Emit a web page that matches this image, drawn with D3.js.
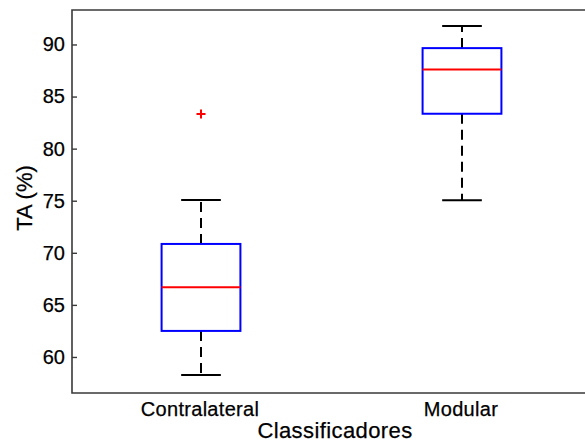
<!DOCTYPE html>
<html>
<head>
<meta charset="utf-8">
<script src="https://cdn.jsdelivr.net/npm/d3@7"></script>
<style>
  body { margin: 0; background: #fff; }
  svg { display: block; }
  text { font-family: "Liberation Sans", Arial, sans-serif; fill: #000; stroke: #000; stroke-width: 0.25px; }
</style>
</head>
<body>
<svg id="chart" width="585" height="443"></svg>
<script>
// data
const categories   = ["Contralateral", "Modular"]
const lowWhisker   = [58.27, 75.04]
const q1           = [62.50, 83.35]
const medians      = [66.69, 87.60]
const q3           = [70.85, 89.65]
const highWhisker  = [75.07, 91.77]
const outliers     = [[83.32], []]
const yTicks       = [60, 65, 70, 75, 80, 85, 90]

const svg = d3.select("#chart")

const plotLeft = 72, plotTop = 10, plotBottom = 393
const y = d3.scaleLinear().domain([56.54, 93.31]).range([plotBottom, plotTop])
const x = d3.scaleLinear().domain([0.5, 2.5]).range([70.5, 592.5])

const boxHalf = 0.151, capHalf = 0.076

// frame (top + bottom + left), right side runs off the picture
svg.append("path")
  .attr("d", `M585,${plotTop}H${plotLeft}V${plotBottom}H585`)
  .attr("fill", "none")
  .attr("stroke", "#3a3a3a")
  .attr("stroke-width", 1.6)

// y axis, inward ticks
const yAxis = d3.axisLeft(y)
  .tickValues(yTicks)
  .tickSizeInner(-5)
  .tickSizeOuter(0)
  .tickPadding(7)

const gy = svg.append("g")
  .attr("transform", `translate(${plotLeft},0)`)
  .call(yAxis)
gy.select(".domain").remove()
gy.selectAll(".tick line").attr("stroke", "#3a3a3a").attr("stroke-width", 1.4)
gy.selectAll(".tick text")
  .style("font-family", '"Liberation Sans", Arial, sans-serif')
  .style("font-size", "20px")
  .attr("fill", "#000")

// category labels
svg.selectAll(".cat")
  .data(categories)
  .join("text")
  .attr("class", "cat")
  .attr("x", (d, i) => x(i + 1) - 1)
  .attr("y", 416)
  .attr("text-anchor", "middle")
  .style("font-size", "20px")
  .style("letter-spacing", "0.3px")
  .text(d => d)

// boxes
categories.forEach((c, i) => {
  const cx = x(i + 1)
  const g = svg.append("g")

  // whiskers, dashed, drawn from box outward
  g.append("line")
    .attr("x1", cx).attr("x2", cx)
    .attr("y1", y(q3[i])).attr("y2", y(highWhisker[i]))
    .attr("stroke", "#000").attr("stroke-width", 2)
    .attr("stroke-dasharray", "10,6")
  g.append("line")
    .attr("x1", cx).attr("x2", cx)
    .attr("y1", y(q1[i])).attr("y2", y(lowWhisker[i]))
    .attr("stroke", "#000").attr("stroke-width", 2)
    .attr("stroke-dasharray", "10,6")

  // caps
  ;[lowWhisker[i], highWhisker[i]].forEach(v => {
    g.append("line")
      .attr("x1", x(i + 1 - capHalf)).attr("x2", x(i + 1 + capHalf))
      .attr("y1", y(v)).attr("y2", y(v))
      .attr("stroke", "#000").attr("stroke-width", 2)
  })

  // box
  g.append("rect")
    .attr("x", x(i + 1 - boxHalf))
    .attr("y", y(q3[i]))
    .attr("width", x(i + 1 + boxHalf) - x(i + 1 - boxHalf))
    .attr("height", y(q1[i]) - y(q3[i]))
    .attr("fill", "none")
    .attr("stroke", "#0000ff")
    .attr("stroke-width", 2)

  // median
  g.append("line")
    .attr("x1", x(i + 1 - boxHalf)).attr("x2", x(i + 1 + boxHalf))
    .attr("y1", y(medians[i])).attr("y2", y(medians[i]))
    .attr("stroke", "#ff0000").attr("stroke-width", 2)

  // outliers as red +
  outliers[i].forEach(v => {
    const py = y(v), s = 4.5
    g.append("path")
      .attr("d", `M${cx - s},${py}H${cx + s}M${cx},${py - s}V${py + s}`)
      .attr("stroke", "#ff0000").attr("stroke-width", 2)
  })
})

// axis titles
svg.append("text")
  .attr("x", 335)
  .attr("y", 438)
  .attr("text-anchor", "middle")
  .style("font-size", "22px")
  .style("letter-spacing", "0.4px")
  .text("Classificadores")

svg.append("text")
  .attr("transform", "translate(32,198) rotate(-90)")
  .attr("text-anchor", "middle")
  .style("font-size", "22px")
  .text("TA (%)")
</script>
</body>
</html>
